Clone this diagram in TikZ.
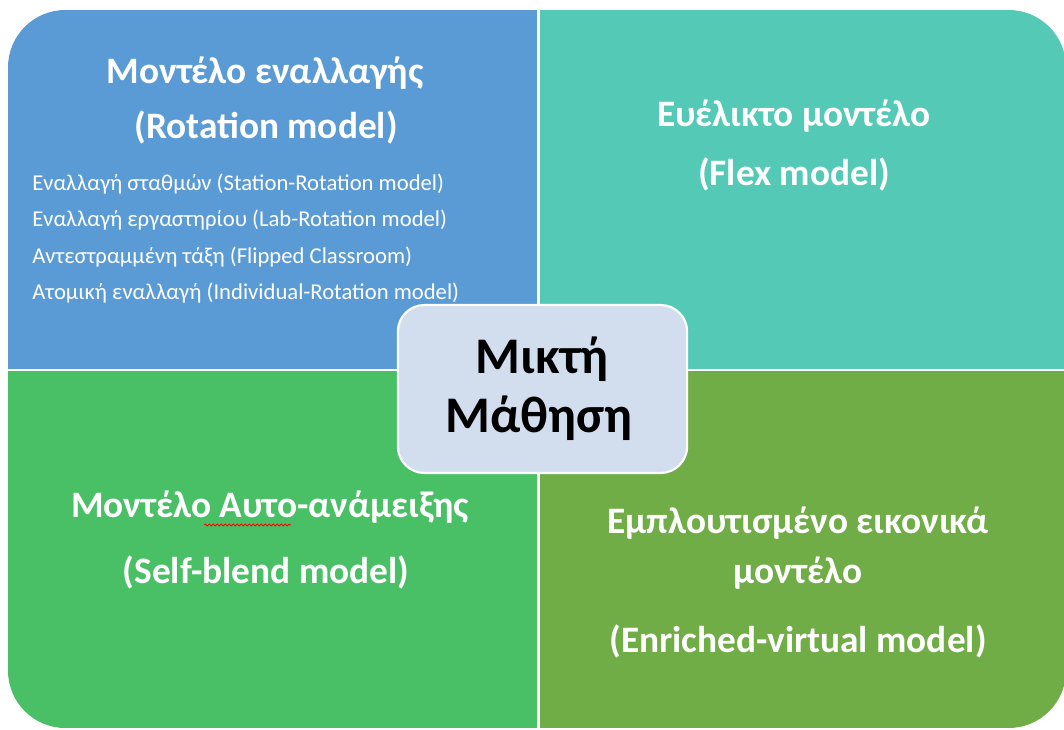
\documentclass[tikz,border=0pt]{standalone}
\usepackage{fontspec}
\setmainfont{Carlito}
\usetikzlibrary{positioning,decorations.pathmorphing}
\definecolor{rotblue}{HTML}{5B9BD5}
\definecolor{flexteal}{HTML}{54C9B6}
\definecolor{selfgreen}{HTML}{4AC066}
\definecolor{enrgreen}{HTML}{70AD47}
\definecolor{mixfill}{HTML}{D2DDEE}

\begin{document}
\begin{tikzpicture}[x=0.75pt,y=-0.75pt,
  head/.style={text=white,font=\bfseries\fontsize{28}{34}\selectfont,anchor=base,inner sep=0pt},
  item/.style={text=white,font=\fontsize{17}{20}\selectfont,anchor=base west,inner sep=0pt},
  mixtext/.style={text=black,font=\bfseries\fontsize{38.5}{44}\selectfont,anchor=base,inner sep=0pt}]

\useasboundingbox (0,0) rectangle (1064,729);

% quadrants
\begin{scope}
\clip[rounded corners=43pt] (8,10) rectangle (1066,728);
\fill[rotblue]   (8,10)      rectangle (538.5,370);
\fill[flexteal]  (538.5,10)  rectangle (1066,370);
\fill[selfgreen] (8,370)     rectangle (538.5,728);
\fill[enrgreen]  (538.5,370) rectangle (1066,728);
\draw[white,line width=1.9pt] (538.5,10) -- (538.5,728) (8,370) -- (1066,370);
\end{scope}

\node[head] (rot1) at (265,83)  {Μοντέλο εναλλαγής};
\node[head] (rot2) at (266,138) {(Rotation model)};
\node[item] (st)   at (32,190)  {Εναλλαγή σταθμών (Station-Rotation model)};
\node[item] (lab)  at (32,226)  {Εναλλαγή εργαστηρίου (Lab-Rotation model)};
\node[item] (flip) at (32,263)  {Αντεστραμμένη τάξη (Flipped Classroom)};
\node[item] (ind)  at (32,299)  {Ατομική εναλλαγή (Individual-Rotation model)};

\node[head] (flex1) at (794,126) {Ευέλικτο μοντέλο};
\node[head] (flex2) at (794,185) {(Flex model)};

\node[head] (self1) at (270,517) {Μοντέλο Αυτο-ανάμειξης};
\node[head] (self2) at (266,583) {(Self-blend model)};
\draw[red,line width=0.6pt,decorate,decoration={snake,amplitude=0.7pt,segment length=3pt}] (204,525) -- (291,525);

\node[head] (enr1) at (798,533) {Εμπλουτισμένο εικονικά};
\node[head] (enr2) at (798,583) {μοντέλο};
\node[head] (enr3) at (798,652) {(Enriched-virtual model)};

\node[draw=white,line width=1.6pt,fill=mixfill,rounded corners=20pt,
      minimum width=217pt,minimum height=126pt] (mix) at (542.5,389) {};
\node[mixtext] (mix1) at (542,373) {Μικτή};
\node[mixtext] (mix2) at (539,432) {Μάθηση};
\end{tikzpicture}
\end{document}
